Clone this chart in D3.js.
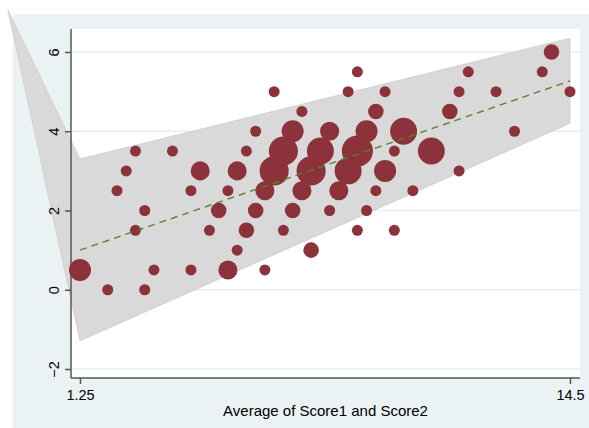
<!DOCTYPE html>
<html>
<head>
<meta charset="utf-8">
<script src="https://cdn.jsdelivr.net/npm/d3@7"></script>
<style>
  html, body { margin: 0; padding: 0; background: #ffffff; }
  svg { display: block; }
  text { font-family: "Liberation Sans", Arial, Helvetica, sans-serif; fill: #000; }
</style>
</head>
<body>
<svg id="chart" width="589" height="428"></svg>
<script>
// Average score (x), outcome (y) and number of observations at that point (weight)
const avgScore = [2.0, 3.0,
  1.25, 3.25, 4.25, 5.25, 6.25,
  5.5, 7.5,
  2.75, 4.75, 5.75, 6.75, 8.75, 9.75,
  3.0, 5.0, 6.0, 7.0, 8.0, 9.0,
  2.25, 4.25, 5.25, 6.25, 7.25, 8.25, 9.25, 10.25,
  2.5, 4.5, 5.5, 6.5, 7.5, 8.5, 9.5, 11.5,
  2.75, 3.75, 5.75, 6.75, 7.75, 8.75, 9.75, 10.75,
  6.0, 7.0, 8.0, 9.0, 10.0, 13.0,
  7.25, 9.25, 11.25,
  6.5, 8.5, 9.5, 11.5, 12.5, 14.5,
  8.75, 11.75, 13.75,
  14.0];
const outcome = [0, 0,
  0.5, 0.5, 0.5, 0.5, 0.5,
  1, 1,
  1.5, 1.5, 1.5, 1.5, 1.5, 1.5,
  2, 2, 2, 2, 2, 2,
  2.5, 2.5, 2.5, 2.5, 2.5, 2.5, 2.5, 2.5,
  3, 3, 3, 3, 3, 3, 3, 3,
  3.5, 3.5, 3.5, 3.5, 3.5, 3.5, 3.5, 3.5,
  4, 4, 4, 4, 4, 4,
  4.5, 4.5, 4.5,
  5, 5, 5, 5, 5, 5,
  5.5, 5.5, 5.5,
  6];
const weight = [1, 1,
  4, 1, 1, 3, 1,
  1, 2,
  1, 1, 2, 1, 1, 1,
  1, 2, 2, 2, 1, 1,
  1, 1, 1, 3, 3, 3, 1, 1,
  1, 3, 3, 7, 7, 6, 4, 1,
  1, 1, 1, 7, 6, 8, 1, 6,
  1, 4, 3, 4, 6, 1,
  1, 2, 2,
  1, 1, 1, 1, 1, 1,
  1, 1, 1,
  2];

// Linear fit and its confidence band
const fitX = [1.25, 14.5];
const fitY = [1.0, 5.27];
const bandX = [-0.7, 1.25, 14.5];
const bandUpper = [7.06, 3.30, 6.35];
const bandLower = [7.06, -1.29, 4.20];

const yTicks = [-2, 0, 2, 4, 6];
const xTicks = [1.25, 14.5];
const xTitle = "Average of Score1 and Score2";

const svg = d3.select("#chart");

const plot = { left: 71, right: 580, top: 29, bottom: 378 };
const x = d3.scaleLinear().domain([1.25, 14.5]).range([80, 570]);
const y = d3.scaleLinear().domain([-2, 6]).range([369, 52]);
const r = d3.scaleSqrt().domain([0, 8]).range([0, 5.5 * Math.sqrt(8)]);

// Outer graph region
svg.append("rect").attr("x", 13).attr("y", 14).attr("width", 576).attr("height", 414)
  .attr("fill", "#eaf2f3");

// Plot region
svg.append("rect").attr("x", plot.left).attr("y", plot.top)
  .attr("width", plot.right - plot.left).attr("height", plot.bottom - plot.top)
  .attr("fill", "#ffffff");

// Horizontal gridlines
svg.append("g").selectAll("line").data(yTicks).join("line")
  .attr("x1", plot.left).attr("x2", plot.right)
  .attr("y1", d => y(d)).attr("y2", d => y(d))
  .attr("stroke", "#e6eff0").attr("stroke-width", 1.5);

// Confidence band
const bandPts = bandX.map((v, i) => [x(v), y(bandUpper[i])])
  .concat(bandX.map((v, i) => [x(v), y(bandLower[i])]).reverse());
svg.append("path")
  .attr("d", d3.line()(bandPts) + "Z")
  .attr("fill", "#d9d9d9").attr("stroke", "#cbcbcb").attr("stroke-width", 0.8);

// Axes
const yAxis = svg.append("g").attr("transform", `translate(${plot.left},0)`)
  .call(d3.axisLeft(y).tickValues(yTicks).tickSize(6).tickPadding(6).tickFormat(d3.format("d")));
yAxis.select(".domain").attr("d", `M0,${plot.top}V${plot.bottom}`)
  .attr("stroke", "#555").attr("stroke-width", 1.5);
yAxis.selectAll(".tick line").attr("stroke", "#555").attr("stroke-width", 1.5);
yAxis.selectAll(".tick text")
  .attr("font-size", 14.5).attr("text-anchor", "middle")
  .attr("x", 0).attr("y", 0).attr("dy", "0")
  .attr("transform", "translate(-12,0) rotate(-90)");

const xAxis = svg.append("g").attr("transform", `translate(0,${plot.bottom})`)
  .call(d3.axisBottom(x).tickValues(xTicks).tickSize(6).tickPadding(6).tickFormat(d => String(d)));
xAxis.select(".domain").attr("d", `M${plot.left},0H${plot.right}`)
  .attr("stroke", "#555").attr("stroke-width", 1.5);
xAxis.selectAll(".tick line").attr("stroke", "#555").attr("stroke-width", 1.5);
xAxis.selectAll(".tick text").attr("font-size", 14.5);
svg.selectAll(".tick text").attr("fill", "#000");

// Weighted bubbles
const pts = avgScore.map((v, i) => ({ x: v, y: outcome[i], w: weight[i] }));
svg.append("g").selectAll("circle")
  .data(pts.slice().sort((a, b) => b.w - a.w)).join("circle")
  .attr("cx", d => x(d.x)).attr("cy", d => y(d.y)).attr("r", d => r(d.w))
  .attr("fill", "#8b323a");

// Fitted line
svg.append("path")
  .attr("d", d3.line()(fitX.map((v, i) => [x(v), y(fitY[i])])))
  .attr("fill", "none").attr("stroke", "#5b7f30").attr("stroke-width", 1.4)
  .attr("stroke-dasharray", "7,5");

// Axis title
svg.append("text").attr("x", (plot.left + plot.right) / 2).attr("y", 416)
  .attr("text-anchor", "middle").attr("font-size", 15).text(xTitle);
</script>
</body>
</html>
